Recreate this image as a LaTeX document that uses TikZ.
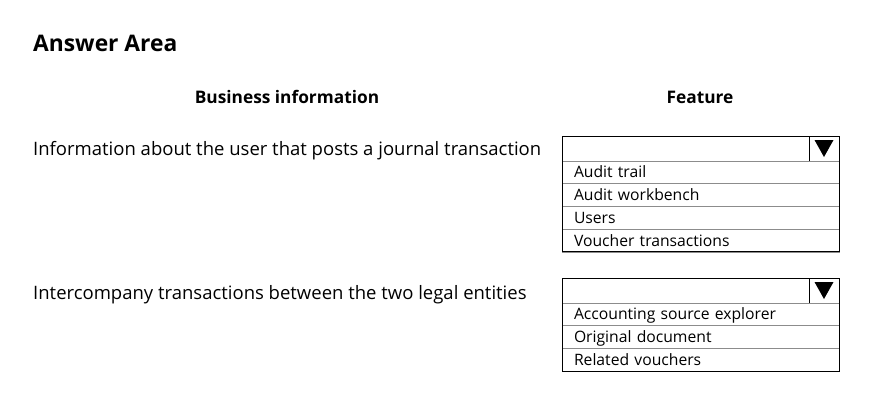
\documentclass[tikz,border=0pt]{standalone}
\usepackage{fontspec}
\setmainfont{Open Sans}
\usetikzlibrary{positioning}

\begin{document}
\begin{tikzpicture}[
			x=1pt, y=-1pt,
			title/.style={font=\bfseries\fontsize{22.8}{27}\selectfont, anchor=base west, inner sep=0pt},
			column/.style={font=\bfseries\fontsize{17.3}{21}\selectfont, anchor=base, inner sep=0pt},
			question/.style={font=\fontsize{18.5}{22}\selectfont, anchor=base west, inner sep=0pt},
			dropdown/.style={draw, line width=1pt, minimum width=277pt, minimum height=25pt, anchor=north west, inner sep=0pt, outer sep=0pt},
			option/.style={draw=black!45, line width=0.6pt, font=\fontsize{15.7}{18}\selectfont, minimum width=277pt, minimum height=22.7pt, text width=253pt, text height=11.2pt, text depth=0pt, inner xsep=12pt, inner ysep=0pt, outer sep=0pt, align=left},
			frame/.style={draw, line width=1pt},
			arrowcell/.style={draw, line width=0.6pt}
			]
			\useasboundingbox (0,0) rectangle (889,408);
			\node[title] (answer) at (33,51) {Answer Area};
			\node[column] (business) at (287,103) {Business information};
			\node[column] (feature) at (700,103) {Feature};
			% first statement
			\node[question] (info) at (33,155) {Information about the user that posts a journal transaction};
			\node[dropdown] (drop1) at (562,136) {};
			\node[option, below=0pt of drop1] (audit) {Audit trail};
			\node[option, below=0pt of audit] (workbench) {Audit workbench};
			\node[option, below=0pt of workbench] (users) {Users};
			\node[option, below=0pt of users] (voucher) {Voucher transactions};
			\draw[arrowcell] ([xshift=-30pt]drop1.north east) -- ([xshift=-30pt]drop1.south east);
			\coordinate (tri1) at ([xshift=-15pt]drop1.east);
			\fill (tri1) ++(-9.5,-8.5) -- ++(19,0) -- ++(-9.5,17) -- cycle;
			\draw[frame] (drop1.north west) rectangle (voucher.south east);
			% second statement
			\node[question] (intercompany) at (33,299) {Intercompany transactions between the two legal entities};
			\node[dropdown] (drop2) at (562,278) {};
			\node[option, below=0pt of drop2] (explorer) {Accounting source explorer};
			\node[option, below=0pt of explorer] (original) {Original document};
			\node[option, below=0pt of original] (related) {Related vouchers};
			\draw[arrowcell] ([xshift=-30pt]drop2.north east) -- ([xshift=-30pt]drop2.south east);
			\coordinate (tri2) at ([xshift=-15pt]drop2.east);
			\fill (tri2) ++(-9.5,-8.5) -- ++(19,0) -- ++(-9.5,17) -- cycle;
			\draw[frame] (drop2.north west) rectangle (related.south east);
		\end{tikzpicture}
\end{document}
